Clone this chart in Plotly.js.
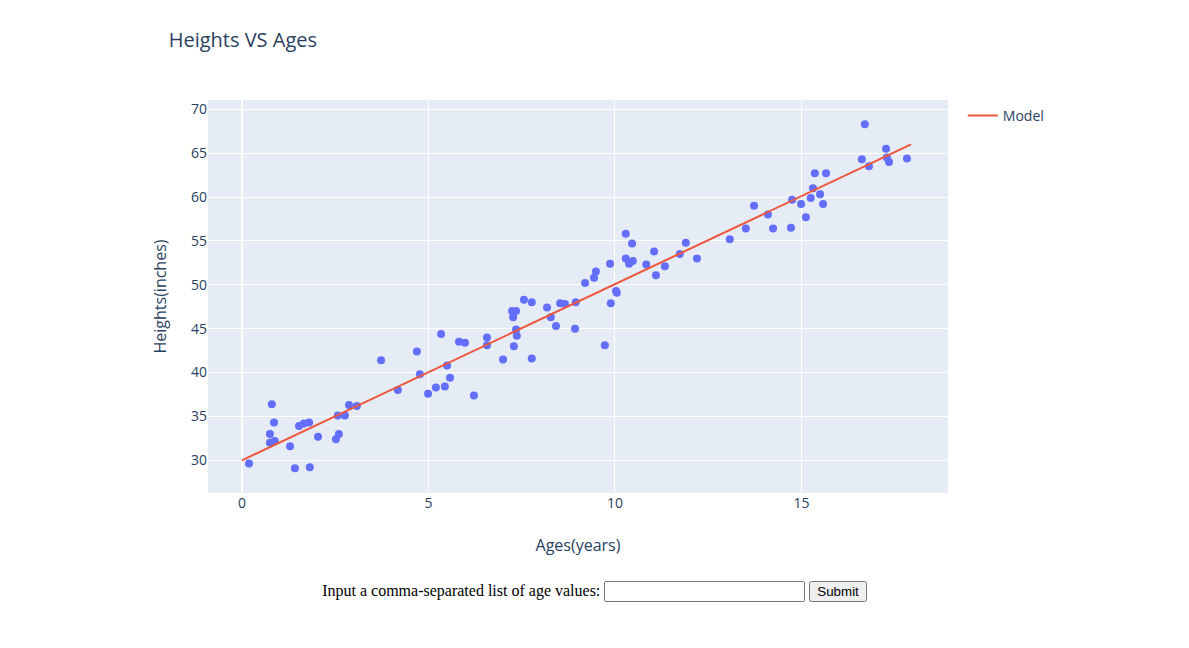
<!DOCTYPE html>
<html>
<head>
<meta charset="utf-8">
<script src="https://cdn.plot.ly/plotly-3.0.1.min.js"></script>
<style>
  body { margin: 8px; }
  #plot { width: 1173px; height: 560px; }
  .form { text-align: center; margin-top: 13px; font-family: "Liberation Serif", serif; font-size: 16px; }
</style>
</head>
<body>
<div id="plot"></div>
<div class="form">
  Input a comma-separated list of age values: <input type="text" size="22"> <button>Submit</button>
</div>
<script>
var ages = [0.19, 0.8, 0.75, 0.86, 0.75, 0.88, 1.29, 1.42, 1.82, 1.53, 1.66, 1.8, 2.04, 2.52, 2.6, 2.57,
  2.76, 2.87, 3.08, 3.73, 4.18, 4.69, 4.77, 4.99, 5.2, 5.34, 5.44, 5.5, 5.58, 5.82, 5.98, 6.22, 6.57,
  6.57, 7.0, 7.24, 7.27, 7.35, 7.29, 7.35, 7.37, 7.56, 7.77, 7.77, 8.18, 8.28, 8.42, 8.53, 8.66, 8.93,
  8.95, 9.2, 9.44, 9.49, 9.73, 9.87, 9.89, 10.03, 10.05, 10.29, 10.29, 10.38, 10.48, 10.46, 10.84,
  11.05, 11.1, 11.34, 11.74, 11.9, 12.2, 13.08, 13.51, 13.73, 14.1, 14.24, 14.72, 14.75, 14.99, 15.12,
  15.25, 15.31, 15.36, 15.5, 15.58, 15.66, 16.62, 16.7, 16.81, 17.27, 17.29, 17.35, 17.83];
var heights = [29.65, 36.4, 33.0, 34.3, 32.0, 32.2, 31.6, 29.1, 29.2, 33.9, 34.2, 34.3, 32.7, 32.4, 33.0, 35.1,
  35.1, 36.3, 36.2, 41.4, 38.0, 42.4, 39.8, 37.6, 38.3, 44.4, 38.4, 40.8, 39.4, 43.5, 43.4, 37.4, 44.0,
  43.1, 41.5, 47.0, 46.3, 47.0, 43.0, 44.9, 44.2, 48.3, 41.6, 48.0, 47.4, 46.3, 45.3, 47.9, 47.8, 45.0,
  48.0, 50.2, 50.8, 51.5, 43.1, 52.4, 47.9, 49.3, 49.1, 55.8, 53.0, 52.4, 52.7, 54.7, 52.3,
  53.8, 51.1, 52.1, 53.5, 54.8, 53.0, 55.2, 56.4, 59.0, 58.0, 56.4, 56.5, 59.7, 59.2, 57.7,
  59.9, 61.0, 62.7, 60.3, 59.2, 62.7, 64.3, 68.3, 63.5, 65.5, 64.5, 64.0, 64.4];
var modelAges = [0, 17.94];
var modelHeights = [30.0, 66.0];

Plotly.newPlot('plot', [
  { x: ages, y: heights, mode: 'markers', type: 'scatter', showlegend: false,
    marker: { color: '#636efa', size: 8 } },
  { x: modelAges, y: modelHeights, mode: 'lines', type: 'scatter', name: 'Model',
    line: { color: '#ef553b', width: 2 } }
], {
  title: { text: 'Heights VS Ages', x: 0.137, y: 0.955, xanchor: 'left', font: { size: 20 } },
  margin: { l: 200, r: 233, t: 92, b: 75 },
  showlegend: true,
  legend: { x: 1.02, y: 1 },
  plot_bgcolor: '#e5ecf6',
  font: { family: 'Open Sans, Arial, sans-serif', color: '#2a3f5f', size: 14 },
  xaxis: { title: { text: 'Ages(years)', font: { size: 16 } }, range: [-0.91, 18.93], gridcolor: '#fff',
    zerolinecolor: '#fff', zerolinewidth: 2, dtick: 5 },
  yaxis: { title: { text: 'Heights(inches)', font: { size: 16 } }, range: [26.28, 71.05], gridcolor: '#fff',
    zerolinecolor: '#fff', dtick: 5 }
}, { displayModeBar: false });
</script>
</body>
</html>
